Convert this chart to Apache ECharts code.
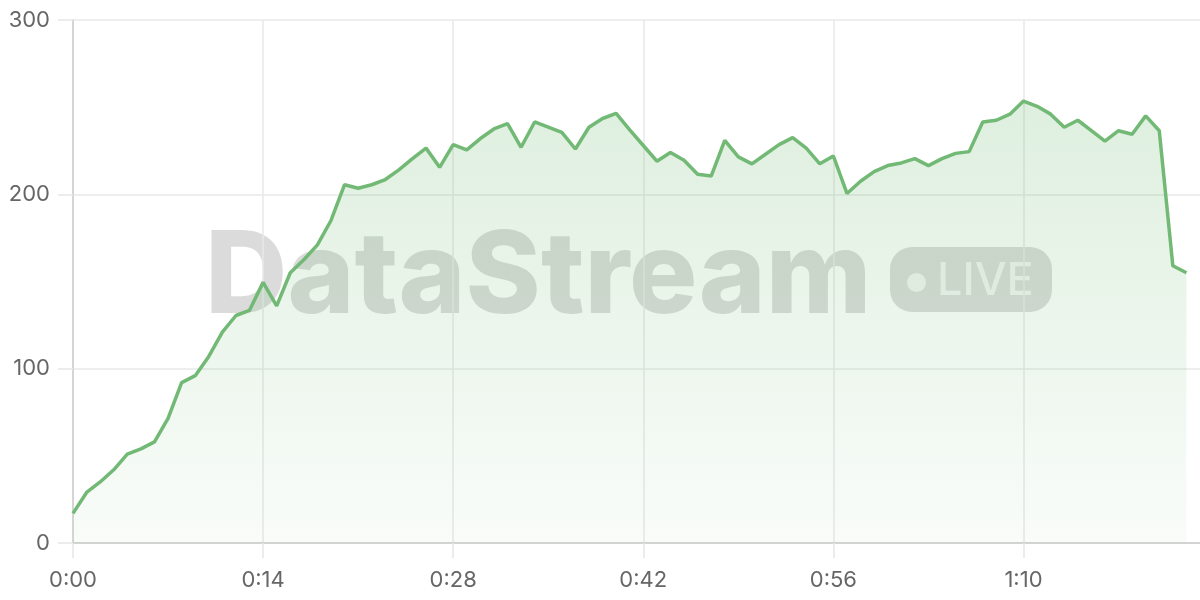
<!DOCTYPE html>
<html>
<head>
<meta charset="utf-8">
<script src="https://cdn.jsdelivr.net/npm/echarts@6/dist/echarts.min.js"></script>
<style>
  html, body { margin: 0; padding: 0; background: #ffffff; }
  #chart { width: 1200px; height: 600px; }
</style>
</head>
<body>
<div id="chart"></div>
<script>
// Time categories (one per second)
const categories = [
  "0:00","0:01","0:02","0:03","0:04","0:05","0:06","0:07","0:08","0:09",
  "0:10","0:11","0:12","0:13","0:14","0:15","0:16","0:17","0:18","0:19",
  "0:20","0:21","0:22","0:23","0:24","0:25","0:26","0:27","0:28","0:29",
  "0:30","0:31","0:32","0:33","0:34","0:35","0:36","0:37","0:38","0:39",
  "0:40","0:41","0:42","0:43","0:44","0:45","0:46","0:47","0:48","0:49",
  "0:50","0:51","0:52","0:53","0:54","0:55","0:56","0:57","0:58","0:59",
  "1:00","1:01","1:02","1:03","1:04","1:05","1:06","1:07","1:08","1:09",
  "1:10","1:11","1:12","1:13","1:14","1:15","1:16","1:17","1:18","1:19",
  "1:20","1:21","1:22","1:23"
];

// Stream values
const values = [
  17, 29, 35, 42, 51, 54, 58, 71.5, 92, 96,
  107, 121, 130.5, 133.5, 149.5, 136, 155, 162.5, 171, 185,
  205.5, 203.5, 205.5, 208.5, 214, 220.5, 226.5, 215.5, 228.5, 225.5,
  232, 237.5, 240.5, 227, 241.5, 238.5, 235.5, 226, 238.5, 243.5,
  246.5, 237, 228, 219, 224, 219.5, 211.5, 210.5, 231, 221.5,
  217.5, 223, 228.5, 232.5, 226.5, 217.5, 222, 200.5, 207.5, 213,
  216.5, 218, 220.5, 216.5, 220.5, 223.5, 224.5, 241.5, 242.5, 246,
  253.5, 250.5, 246, 238.5, 242.5, 236.5, 230.5, 236.5, 234.5, 245,
  236.5, 159, 155
];

// Y-axis ticks
const yTicks = [0, 100, 200, 300];

const watermarkText = "DataStream";
const badgeText = "LIVE";

const chart = echarts.init(document.getElementById('chart'), null, { renderer: 'canvas' });

const labelFont = 'Inter, "Noto Sans", sans-serif';
const lineColor = '#72b975';

chart.setOption({
  animation: false,
  backgroundColor: '#ffffff',
  grid: { left: 73, right: 0, top: 20, bottom: 57, containLabel: false },
  graphic: [
    {
      type: 'text',
      z: 0,
      silent: true,
      style: {
        text: watermarkText,
        x: 205,
        y: 279,
        fill: 'rgba(0,0,0,0.14)',
        font: '800 114px Inter, "Noto Sans", sans-serif',
        textAlign: 'left',
        textVerticalAlign: 'middle'
      }
    },
    {
      type: 'rect',
      z: 0,
      silent: true,
      shape: { x: 890, y: 247, width: 162, height: 65, r: 22 },
      style: { fill: 'rgba(0,0,0,0.14)' }
    },
    {
      type: 'circle',
      z: 0,
      silent: true,
      shape: { cx: 916.5, cy: 282.5, r: 9.5 },
      style: { fill: 'rgba(255,255,255,0.68)' }
    },
    {
      type: 'text',
      z: 0,
      silent: true,
      style: {
        text: badgeText,
        x: 937,
        y: 281,
        fill: 'rgba(255,255,255,0.68)',
        font: '500 45px Inter, "Noto Sans", sans-serif',
        textAlign: 'left',
        textVerticalAlign: 'middle'
      }
    }
  ],
  xAxis: {
    type: 'category',
    data: categories,
    boundaryGap: false,
    axisLine: { show: true, lineStyle: { color: '#cccccc', width: 1.5 } },
    axisTick: { show: true, interval: 13, length: 15, lineStyle: { color: '#e6e6e6', width: 1.5 } },
    axisLabel: {
      interval: 13,
      margin: 26,
      color: '#666666',
      fontSize: 22,
      fontFamily: labelFont
    },
    splitLine: { show: true, interval: 13, lineStyle: { color: '#e8e8e8', width: 1.5 } }
  },
  yAxis: {
    type: 'value',
    min: yTicks[0],
    max: yTicks[yTicks.length - 1],
    interval: yTicks[1] - yTicks[0],
    axisLine: { show: true, lineStyle: { color: '#cccccc', width: 1.5 } },
    axisTick: { show: true, length: 15, lineStyle: { color: '#e6e6e6', width: 1.5 } },
    axisLabel: {
      margin: 23,
      color: '#666666',
      fontSize: 22,
      fontFamily: labelFont
    },
    splitLine: { show: true, lineStyle: { color: '#e8e8e8', width: 1.5 } }
  },
  series: [
    {
      type: 'line',
      data: values,
      z: 2,
      showSymbol: false,
      symbol: 'none',
      smooth: false,
      lineStyle: { color: lineColor, width: 3.5 },
      itemStyle: { color: lineColor },
      areaStyle: {
        color: new echarts.graphic.LinearGradient(0, 0, 0, 1, [
          { offset: 0, color: 'rgba(109,184,112,0.32)' },
          { offset: 1, color: 'rgba(109,184,112,0.06)' }
        ])
      }
    }
  ]
});
</script>
</body>
</html>
